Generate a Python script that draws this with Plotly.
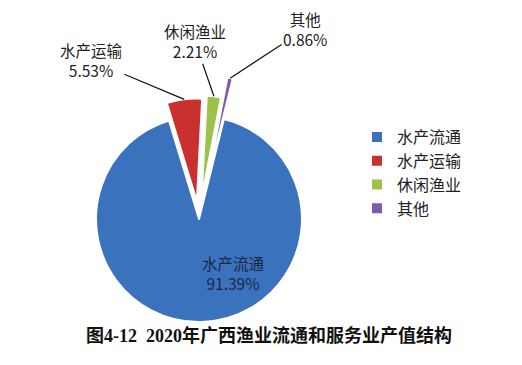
import math
import plotly.graph_objects as go

categories = ["水产流通", "水产运输", "休闲渔业", "其他"]
values = [91.39, 5.53, 2.21, 0.86]
title_text = "图4-12  2020年广西渔业流通和服务业产值结构"

colors = ["#3A72BE", "#C8312E", "#9CC24A", "#7B5DB0"]
pulls = [0, 0.17, 0.2, 0.4]
rotation = 14
# label offsets (pixels) of each label centre from its slice's outer edge
label_offsets = [(34, 54), (-93, -39), (-19, -55), (75, -49)]

W, H = 522, 365
OFF = 8  # page body margin of the browser
cx, cy, r = 199 - OFF, 219 - OFF, 103
maxpull = max(pulls)
half = r * (1 + maxpull)
dom_x = [(cx - half) / W, (cx + half) / W]
dom_y = [(H - cy - half) / H, (H - cy + half) / H]

fig = go.Figure(go.Pie(
    labels=categories,
    values=values,
    sort=False,
    direction="clockwise",
    rotation=rotation,
    pull=pulls,
    marker=dict(colors=colors, line=dict(color="white", width=2)),
    textinfo="none",
    domain=dict(x=dom_x, y=dom_y),
    hoverinfo="label+value",
))

# geometry derived from the data, matching plotly's own pie layout
pie_cx = W * (dom_x[0] + dom_x[1]) / 2
pie_cy = H * (1 - (dom_y[0] + dom_y[1]) / 2)
pie_r = min(W * (dom_x[1] - dom_x[0]), H * (dom_y[1] - dom_y[0])) / 2 / (1 + maxpull)
total = sum(values)
cum = 0
label_font = dict(family="Noto Sans CJK SC", size=15.5, color="#222222")
for i, (lab, v) in enumerate(zip(categories, values)):
    mid = math.radians(rotation + 360 * (cum + v / 2) / total)
    cum += v
    txt = f"{lab}<br>{v:.2f}%"
    ox, oy = label_offsets[i]
    if i == 0:
        fig.add_annotation(x=pie_cx / W, y=1 - pie_cy / H, xref="paper", yref="paper",
                           text=txt, showarrow=False, xshift=ox, yshift=-oy,
                           font=dict(family="Noto Sans CJK SC", size=15.5, color="#1B2747"))
    else:
        d = pie_r * (1 + pulls[i])
        hx = pie_cx + d * math.sin(mid)
        hy = pie_cy - d * math.cos(mid)
        fig.add_annotation(x=hx / W, y=1 - hy / H, xref="paper", yref="paper",
                           text=txt, showarrow=True, arrowhead=0, arrowwidth=1.2,
                           arrowcolor="#111111", ax=ox, ay=oy, standoff=0,
                           font=label_font)

fig.update_layout(
    width=W, height=H,
    margin=dict(l=0, r=0, t=0, b=0, autoexpand=False),
    paper_bgcolor="white",
    plot_bgcolor="white",
    showlegend=True,
    legend=dict(x=(357 - OFF) / W, y=1 - (120 - OFF) / H, xanchor="left", yanchor="top",
                font=dict(family="Noto Sans CJK SC", size=16, color="#222222"),
                bgcolor="rgba(0,0,0,0)"),
    title=dict(text=title_text, x=0.5, xanchor="center",
               y=37 / H, yanchor="middle", yref="container",
               font=dict(family="Liberation Serif, Noto Sans CJK SC", size=18,
                         color="#111111", weight="bold")),
)

fig.write_html("out.html")
